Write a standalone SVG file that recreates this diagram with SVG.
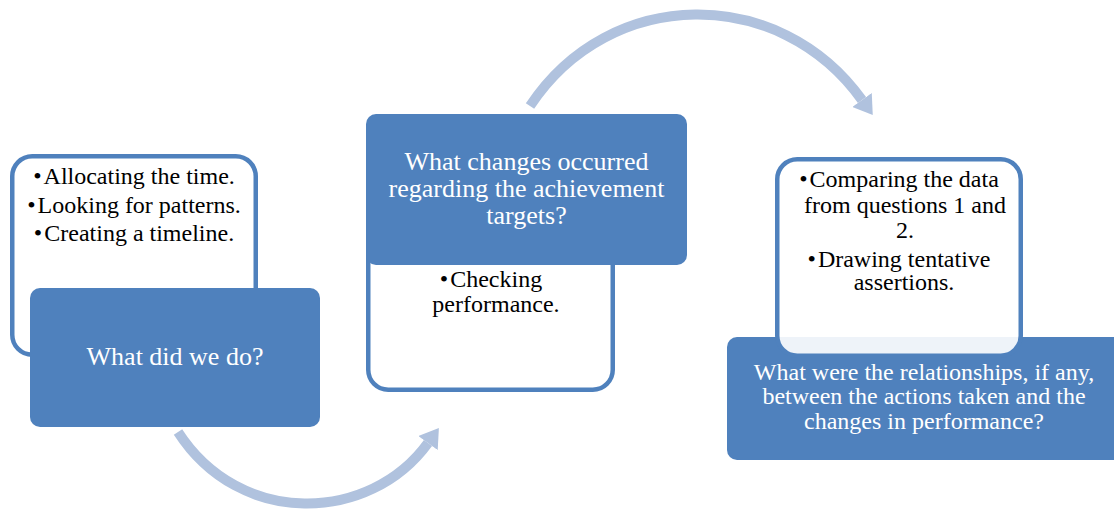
<svg xmlns="http://www.w3.org/2000/svg" width="1114" height="512" viewBox="0 0 1114 512">
<style>
.arc{fill:none;stroke:#b0c2de;stroke-width:10}
.outline{fill:#ffffff;stroke:#4f81bd;stroke-width:4.5}
.blue{fill:#4f81bd}
.q{font-family:"Liberation Serif","Times New Roman",serif;font-size:26px;fill:#ffffff;text-anchor:middle}
.q3{font-family:"Liberation Serif","Times New Roman",serif;font-size:24px;fill:#ffffff;text-anchor:middle}
.b{font-family:"Liberation Serif","Times New Roman",serif;font-size:24px;fill:#000000;text-anchor:middle}
</style>
<defs>
<marker id="head" markerUnits="userSpaceOnUse" markerWidth="20" markerHeight="24" viewBox="0 -11 18 22" refX="0" refY="0" orient="auto">
<path d="M0,-11 L17,0 L0,11 z" fill="#b0c2de"/>
</marker>
</defs>
<rect width="1114" height="512" fill="#ffffff"/>
<g id="connectors">
<path class="arc" d="M178,432 C240,528 370,523 428,443" marker-end="url(#head)"/>
<path class="arc" d="M530,106 C610,-15 780,-15 862,100" marker-end="url(#head)"/>
</g>
<g id="node1">
<rect class="outline" x="12.25" y="156.25" width="243.5" height="198.5" rx="20"/>
<text class="b" x="134" y="184">•<tspan dx="2">Allocating the time.</tspan></text>
<text class="b" x="134" y="213">•<tspan dx="2">Looking for patterns.</tspan></text>
<text class="b" x="134" y="241">•<tspan dx="2">Creating a timeline.</tspan></text>
<rect class="blue" x="30" y="288" width="290" height="139" rx="10"/>
<text class="q" x="175" y="365">What did we do?</text>
</g>
<g id="node2">
<rect class="outline" x="368.25" y="194" width="244.5" height="195.75" rx="20"/>
<text class="b" x="491" y="287">•<tspan dx="2">Checking</tspan></text>
<text class="b" x="496" y="312">performance.</text>
<rect class="blue" x="366" y="114" width="321" height="151" rx="10"/>
<text class="q" x="526.5" y="170">What changes occurred</text>
<text class="q" x="526.5" y="197">regarding the achievement</text>
<text class="q" x="526.5" y="223.5">targets?</text>
</g>
<g id="node3">
<rect class="blue" x="727" y="337" width="400" height="123" rx="10"/>
<text class="q3" x="924" y="380">What were the relationships, if any,</text>
<text class="q3" x="924" y="404">between the actions taken and the</text>
<text class="q3" x="924" y="428.5">changes in performance?</text>
<rect class="outline" x="777.25" y="159.25" width="243.5" height="196.5" rx="20" fill-opacity="0.9"/>
<text class="b" x="899" y="187">•<tspan dx="2">Comparing the data</tspan></text>
<text class="b" x="905" y="212.5">from questions 1 and</text>
<text class="b" x="905" y="237.5">2.</text>
<text class="b" x="899" y="266.5">•<tspan dx="2">Drawing tentative</tspan></text>
<text class="b" x="904" y="290">assertions.</text>
</g>
</svg>
